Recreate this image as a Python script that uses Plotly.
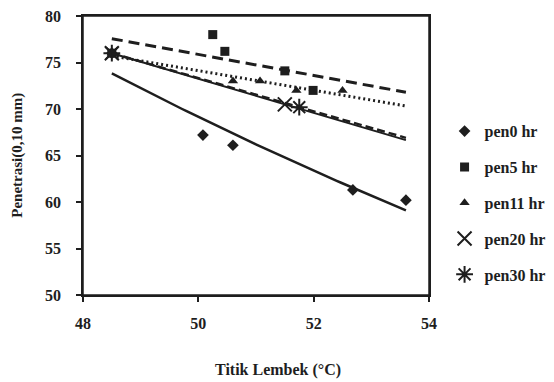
import numpy as np
import plotly.graph_objects as go

# ---- data ----
pen0_x = [48.5, 50.08, 50.6, 52.68, 53.6]
pen0_y = [76.0, 67.2, 66.1, 61.3, 60.2]
pen5_x = [48.5, 50.25, 50.46, 51.5, 51.99]
pen5_y = [76.0, 78.0, 76.2, 74.1, 72.0]
pen11_x = [48.5, 50.6, 51.07, 51.7, 52.5]
pen11_y = [76.0, 73.0, 73.0, 72.0, 72.0]
pen20_x = [48.5, 51.5]
pen20_y = [76.0, 70.5]
pen30_x = [48.5, 51.75]
pen30_y = [76.0, 70.2]
series_names = ["pen0 hr", "pen5 hr", "pen11 hr", "pen20 hr", "pen30 hr"]
x_ticks = [48, 50, 52, 54]
y_ticks = [50, 55, 60, 65, 70, 75, 80]

FONT = "Liberation Serif"
INK = "#1e1e1e"

xs_all = pen0_x + pen5_x + pen11_x + pen20_x + pen30_x
fit_x = np.linspace(min(xs_all), max(xs_all), 60)

def lin_fit(x, y):
    c = np.polyfit(x, y, 1)
    return np.polyval(c, fit_x)

def exp_fit(x, y):
    c = np.polyfit(x, np.log(y), 1)
    return np.exp(np.polyval(c, fit_x))

fig = go.Figure()

marker_specs = [
    (pen0_x, pen0_y, dict(symbol="diamond", size=9, color=INK)),
    (pen5_x, pen5_y, dict(symbol="square", size=9, color=INK)),
    (pen11_x, pen11_y, dict(symbol="triangle-up", size=9, color=INK)),
    (pen20_x, pen20_y, dict(symbol="x-thin-open", size=14, color=INK,
                            line=dict(color=INK, width=2))),
    (pen30_x, pen30_y, dict(symbol="asterisk-open", size=14, color=INK,
                            line=dict(color=INK, width=2))),
]
for i, (x, y, m) in enumerate(marker_specs):
    fig.add_trace(go.Scatter(x=x, y=y, mode="markers", marker=m,
                             name=series_names[i], legendgroup=str(i)))

trend_specs = [
    (exp_fit(pen0_x, pen0_y), dict(color=INK, width=2.5)),
    (lin_fit(pen5_x, pen5_y), dict(color=INK, width=3, dash="11px,6px")),
    (lin_fit(pen11_x, pen11_y), dict(color=INK, width=3, dash="2px,3px")),
    (lin_fit(pen20_x, pen20_y), dict(color=INK, width=2)),
    (lin_fit(pen30_x, pen30_y), dict(color=INK, width=2.5, dash="8px,4px")),
]
for y, ln in trend_specs:
    fig.add_trace(go.Scatter(x=fit_x, y=y, mode="lines", line=ln,
                             showlegend=False, hoverinfo="skip"))

tick_font = dict(family=FONT, size=16, color=INK, weight="bold")
axis_common = dict(showline=True, linecolor=INK, linewidth=1.5, mirror=True,
                   ticks="outside", ticklen=5, tickwidth=1.5, tickcolor=INK,
                   showgrid=False, zeroline=False, tickfont=tick_font,
                   automargin=False, ticklabeloverflow="allow")

fig.update_xaxes(range=[48, 54], tickvals=x_ticks, ticklabelstandoff=8,
                 **axis_common)
fig.update_yaxes(range=[50, 80], tickvals=y_ticks, ticklabelstandoff=12,
                 **axis_common)

# plot frame
fig.add_shape(type="rect", xref="paper", yref="paper", x0=0, y0=0, x1=1, y1=1,
              line=dict(color=INK, width=1.5), layer="above")

fig.add_annotation(text="Titik Lembek (°C)", xref="paper", yref="paper",
                   x=0.565, y=-0.27, showarrow=False, xanchor="center",
                   yanchor="middle",
                   font=dict(family=FONT, size=16, color=INK, weight="bold"))
fig.add_annotation(text="Penetrasi(0,10 mm)", xref="paper", yref="paper",
                   x=-0.19, y=0.5, showarrow=False, textangle=-90,
                   xanchor="center", yanchor="middle",
                   font=dict(family=FONT, size=15, color=INK, weight="bold"))

# the page body adds an 8px offset, so the figure is 8px smaller
fig.update_layout(
    width=546, height=374,
    margin=dict(l=75, r=125, t=8, b=87, autoexpand=False),
    paper_bgcolor="white", plot_bgcolor="white",
    showlegend=True,
    legend=dict(x=1.045, y=0.648, xanchor="left", yanchor="top",
                font=dict(family=FONT, size=16, color=INK, weight="bold"),
                tracegroupgap=12, itemwidth=30,
                bgcolor="rgba(0,0,0,0)"),
)

fig.write_html("out.html")
